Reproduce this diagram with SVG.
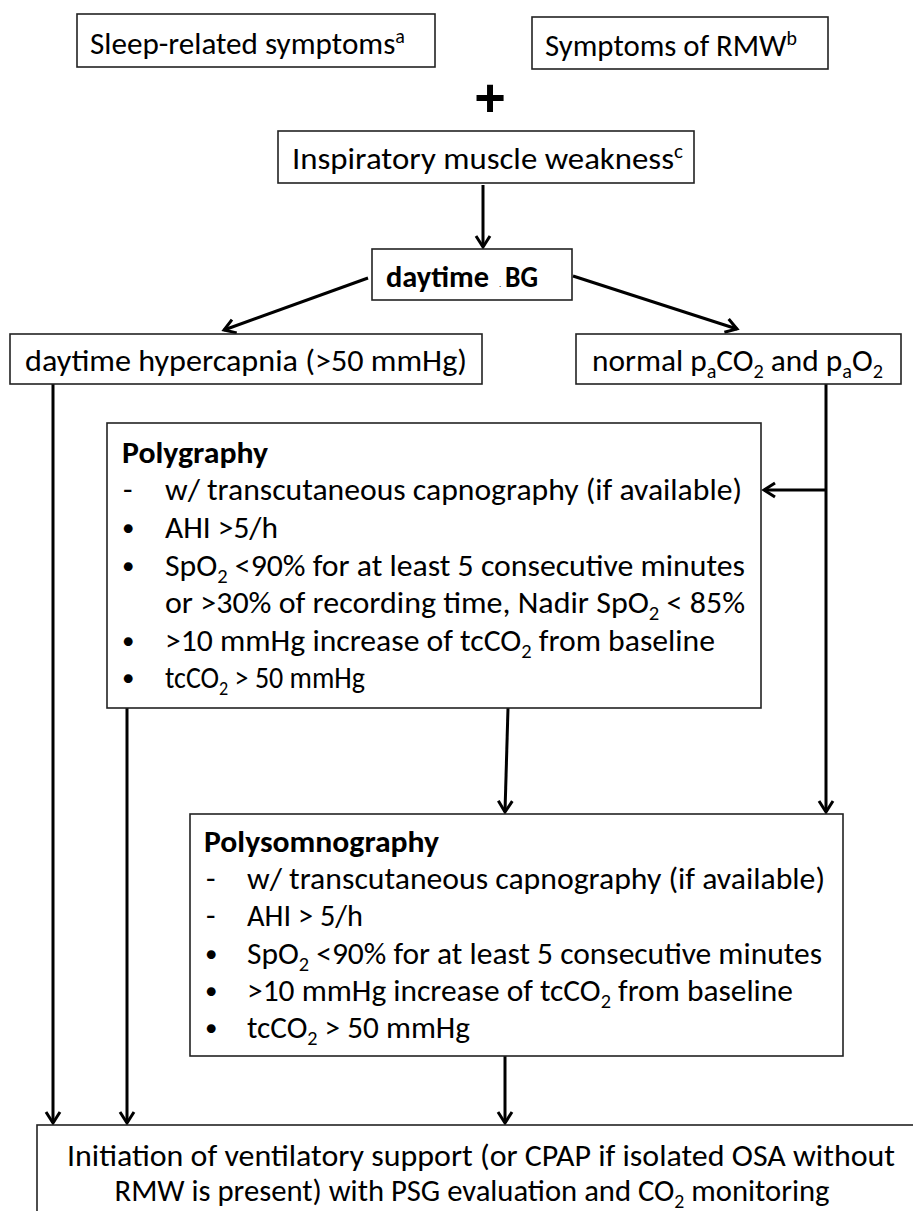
<svg xmlns="http://www.w3.org/2000/svg" width="913" height="1211" viewBox="0 0 913 1211">
<style>
.box{fill:#fff;stroke:#222;stroke-width:1.6}
.t{font-family:Carlito,Lato,"Open Sans",sans-serif;font-size:31px;fill:#000}
.b{font-weight:bold}
.bul{font-family:Carlito,Lato,"Open Sans",sans-serif;font-size:25px;fill:#000}
.sup{font-size:20px}
.sub{font-size:20px}
.c{stroke:#000;stroke-width:3;fill:none}
</style>
<defs>
<marker id="ah" markerUnits="userSpaceOnUse" markerWidth="20" markerHeight="20" viewBox="-14 -10 20 20" refX="0" refY="0" orient="auto">
<path d="M-11,-7 L0,0 L-11,7" fill="none" stroke="#000" stroke-width="3"/>
</marker>
</defs>
<g id="connectors">
<path class="c" d="M483,185 L483,247" marker-end="url(#ah)"/>
<path class="c" d="M368,278 L224,330" marker-end="url(#ah)"/>
<path class="c" d="M573,276 L737,329" marker-end="url(#ah)"/>
<path class="c" d="M53,384 L53,1123" marker-end="url(#ah)"/>
<path class="c" d="M826,384 L826,812" marker-end="url(#ah)"/>
<path class="c" d="M826,490 L764,490" marker-end="url(#ah)"/>
<path class="c" d="M127,708 L127,1123" marker-end="url(#ah)"/>
<path class="c" d="M508,708 L505,812" marker-end="url(#ah)"/>
<path class="c" d="M505,1056 L505,1123" marker-end="url(#ah)"/>
</g>
<g id="sleep">
<rect class="box" x="77" y="14" width="358" height="53"/>
<text class="t" x="90" y="54" textLength="315" lengthAdjust="spacingAndGlyphs">Sleep-related symptoms<tspan class="sup" dy="-11">a</tspan></text>
</g>
<g id="rmw">
<rect class="box" x="532" y="17" width="296" height="52"/>
<text class="t" x="545" y="56" textLength="252" lengthAdjust="spacingAndGlyphs">Symptoms of RMW<tspan class="sup" dy="-11">b</tspan></text>
</g>
<g id="plus">
<text x="490" y="116" text-anchor="middle" style="font-family:'Liberation Sans',Arial,sans-serif;font-weight:bold;font-size:54px">+</text>
</g>
<g id="inspiratory">
<rect class="box" x="278" y="131" width="416" height="52"/>
<text class="t" x="292" y="169" textLength="391" lengthAdjust="spacingAndGlyphs">Inspiratory muscle weakness<tspan class="sup" dy="-11">c</tspan></text>
</g>
<g id="bg">
<rect class="box" x="372" y="249" width="200" height="51"/>
<text class="t b" x="386" y="287" textLength="103" lengthAdjust="spacingAndGlyphs">daytime</text>
<text class="t" x="499" y="287" style="font-size:9px">.</text>
<text class="t b" x="505" y="287" textLength="33" lengthAdjust="spacingAndGlyphs">BG</text>
</g>
<g id="hypercapnia">
<rect class="box" x="10" y="334" width="472" height="50"/>
<text class="t" x="246" y="371" text-anchor="middle" textLength="442" lengthAdjust="spacingAndGlyphs">daytime hypercapnia (&gt;50 mmHg)</text>
</g>
<g id="normal">
<rect class="box" x="576" y="334" width="325" height="50"/>
<text class="t" x="592" y="371" textLength="291" lengthAdjust="spacingAndGlyphs">normal p<tspan class="sub" dy="7">a</tspan><tspan dy="-7">CO</tspan><tspan class="sub" dy="7">2</tspan><tspan dy="-7"> and p</tspan><tspan class="sub" dy="7">a</tspan><tspan dy="-7">O</tspan><tspan class="sub" dy="7">2</tspan></text>
</g>
<g id="polygraphy">
<rect class="box" x="107" y="423" width="654" height="285"/>
<text class="t b" x="122" y="463" textLength="146" lengthAdjust="spacingAndGlyphs">Polygraphy</text>
<text class="t" x="123" y="500">-</text>
<text class="t" x="165" y="500" textLength="577" lengthAdjust="spacingAndGlyphs">w/ transcutaneous capnography (if available)</text>
<text class="bul" x="122" y="536">•</text>
<text class="t" x="165" y="538" textLength="113" lengthAdjust="spacingAndGlyphs">AHI &gt;5/h</text>
<text class="bul" x="122" y="573.5">•</text>
<text class="t" x="165" y="575.5" textLength="580" lengthAdjust="spacingAndGlyphs">SpO<tspan class="sub" dy="7">2</tspan><tspan dy="-7"> &lt;90% for at least 5 consecutive minutes</tspan></text>
<text class="t" x="165" y="613" textLength="580" lengthAdjust="spacingAndGlyphs">or &gt;30% of recording time, Nadir SpO<tspan class="sub" dy="7">2</tspan><tspan dy="-7"> &lt; 85%</tspan></text>
<text class="bul" x="122" y="648.5">•</text>
<text class="t" x="165" y="650.5" textLength="550" lengthAdjust="spacingAndGlyphs">&gt;10 mmHg increase of tcCO<tspan class="sub" dy="7">2</tspan><tspan dy="-7"> from baseline</tspan></text>
<text class="bul" x="122" y="686">•</text>
<text class="t" x="165" y="688" textLength="200" lengthAdjust="spacingAndGlyphs">tcCO<tspan class="sub" dy="7">2</tspan><tspan dy="-7"> &gt; 50 mmHg</tspan></text>
</g>
<g id="polysomnography">
<rect class="box" x="190" y="814" width="653" height="242"/>
<text class="t b" x="204" y="852" textLength="235" lengthAdjust="spacingAndGlyphs">Polysomnography</text>
<text class="t" x="206" y="889">-</text>
<text class="t" x="247" y="889" textLength="578" lengthAdjust="spacingAndGlyphs">w/ transcutaneous capnography (if available)</text>
<text class="t" x="206" y="926">-</text>
<text class="t" x="247" y="926" textLength="116" lengthAdjust="spacingAndGlyphs">AHI &gt; 5/h</text>
<text class="bul" x="205" y="962">•</text>
<text class="t" x="247" y="964" textLength="575" lengthAdjust="spacingAndGlyphs">SpO<tspan class="sub" dy="7">2</tspan><tspan dy="-7"> &lt;90% for at least 5 consecutive minutes</tspan></text>
<text class="bul" x="205" y="999">•</text>
<text class="t" x="247" y="1001" textLength="546" lengthAdjust="spacingAndGlyphs">&gt;10 mmHg increase of tcCO<tspan class="sub" dy="7">2</tspan><tspan dy="-7"> from baseline</tspan></text>
<text class="bul" x="205" y="1036">•</text>
<text class="t" x="247" y="1038" textLength="223" lengthAdjust="spacingAndGlyphs">tcCO<tspan class="sub" dy="7">2</tspan><tspan dy="-7"> &gt; 50 mmHg</tspan></text>
</g>
<g id="initiation">
<rect class="box" x="37" y="1125" width="900" height="100"/>
<text class="t" x="481" y="1166" text-anchor="middle" textLength="828" lengthAdjust="spacingAndGlyphs">Initiation of ventilatory support (or CPAP if isolated OSA without</text>
<text class="t" x="472" y="1201" text-anchor="middle" textLength="715" lengthAdjust="spacingAndGlyphs">RMW is present) with PSG evaluation and CO<tspan class="sub" dy="7">2</tspan><tspan dy="-7"> monitoring</tspan></text>
</g>
</svg>
